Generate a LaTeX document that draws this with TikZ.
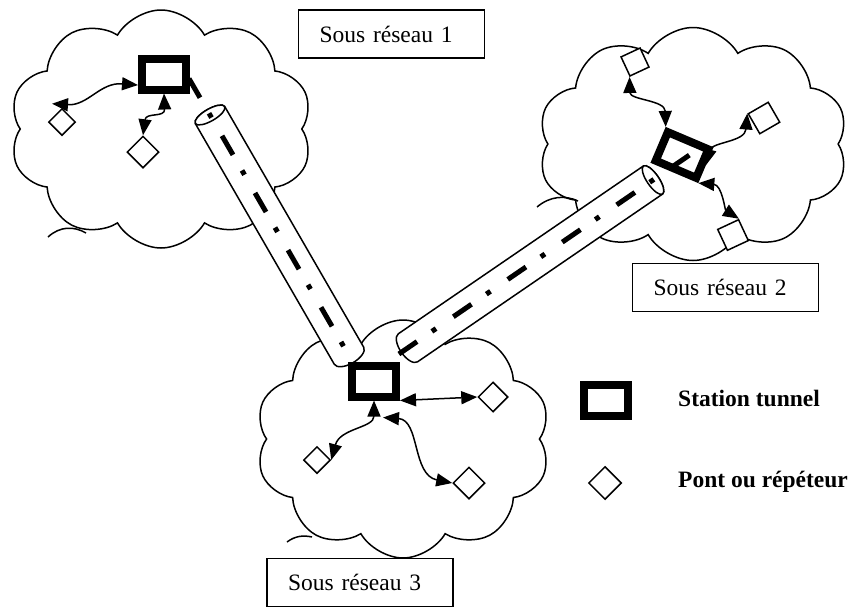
\documentclass[tikz,border=0pt]{standalone}
\usepackage{fontspec}
\setmainfont{Liberation Serif}
\usetikzlibrary{shapes.symbols,shapes.geometric,arrows.meta}
\begin{document}
\begin{tikzpicture}[x=1pt,y=-1pt]
\tikzstyle{every node}=[font=\fontsize{23.5}{28}\selectfont,inner sep=0pt]
\tikzstyle{nuage}=[cloud,draw,line width=1.5pt,cloud puffs=10,cloud puff arc=120]
\tikzstyle{station}=[rectangle,draw,line width=8pt,minimum width=44pt,minimum height=31pt]
\tikzstyle{pont}=[diamond,draw,line width=1.5pt,minimum size=30pt,fill=white]
\tikzstyle{carre}=[rectangle,draw,line width=1.5pt,minimum size=21pt,fill=white]
\tikzstyle{lien}=[{Triangle[length=16pt,width=13pt]}-{Triangle[length=16pt,width=13pt]},line width=1.5pt]
\tikzstyle{tube}=[draw,line width=1.5pt,fill=white]
\tikzstyle{axe}=[line width=5pt,dash pattern=on 22pt off 18pt on 5pt off 21pt]
\tikzstyle{etiquette}=[rectangle,draw,line width=1.5pt,fill=white,minimum width=186pt,minimum height=48pt,text width=144pt,inner xsep=21pt,align=left]
\useasboundingbox (0,0) rectangle (853,608);
% nuages
\node[nuage,minimum width=303pt,minimum height=238pt](n1) at (161,129) {};
\node[nuage,minimum width=310pt,minimum height=233pt](n2) at (693,144) {};
\node[nuage,minimum width=295pt,minimum height=238pt](n3) at (403,439) {};
\draw[line width=1.5pt] (48,237) .. controls (60,226) and (74,226) .. (86,233);
\draw[line width=1.5pt] (537,207) .. controls (550,196) and (565,195) .. (578,201);
\draw[line width=1.5pt] (287,542) .. controls (295,536) and (303,535) .. (312,537);
% tunnels
\begin{scope}[shift={(210,115)},rotate=-60]
\draw[tube] (0,-17) -- (278,-17) arc[start angle=-90,end angle=90,x radius=8,y radius=17] -- (0,17) arc[start angle=90,end angle=270,x radius=6,y radius=17] -- cycle;
\draw[tube] (0,0) ellipse[x radius=6,y radius=17];
\coordinate (t1a) at (-42,0);
\coordinate (t1b) at (278,0);
\end{scope}
\begin{scope}[shift={(653,180)},rotate=-145.6]
\draw[tube] (0,-17) -- (297,-17) arc[start angle=-90,end angle=90,x radius=8,y radius=17] -- (0,17) arc[start angle=90,end angle=270,x radius=6,y radius=17] -- cycle;
\draw[tube] (0,0) ellipse[x radius=6,y radius=17];
\coordinate (t2a) at (308,0);
\coordinate (t2b) at (-45,0);
\end{scope}
\draw[axe] (t1a) -- (t1b);
\draw[axe] (t2a) -- (t2b);
% stations
\node[station](s1) at (164,74) {};
\node[station,rotate=-23](s2) at (682,155) {};
\node[station](s3) at (374,381) {};
% ponts
\node[pont,minimum size=27pt](p1) at (62,122) {};
\node[pont,minimum size=32pt](p2) at (143,152) {};
\node[carre,rotate=25](p3) at (635,62) {};
\node[carre,rotate=30,minimum size=23pt](p4) at (764,118) {};
\node[carre,rotate=25,minimum size=23pt](p5) at (733,235) {};
\node[pont](p6) at (493,397) {};
\node[pont,minimum size=27pt](p7) at (317,460) {};
\node[pont,minimum size=32pt](p8) at (469,483) {};
% liens
\draw[lien] (s1.203) .. controls (100,82) and (88,106) .. ([shift={(-10,-4)}]p1.north);
\draw[lien] (s1.south) .. controls (165,118) and (146,112) .. (p2.north);
\draw[lien] (p3.south west) .. controls (630,100) and (665,100) .. (s2.north west);
\draw[lien] (s2.east) .. controls (712,142) and (745,142) .. (p4.north west);
\draw[lien] (s2.south east) .. controls (722,185) and (725,210) .. (p5.north east);
\draw[lien] (s3.south east) -- (p6.west);
\draw[lien] (s3.south) .. controls (374,428) and (340,428) .. (p7.east);
\draw[lien] ([shift={(9,17)}]s3.south) .. controls (420,420) and (412,475) .. (p8.west);
% etiquettes
\node[etiquette](e1) at (391.5,34) {Sous réseau 1};
\node[etiquette](e2) at (725.5,287.5) {Sous réseau 2};
\node[etiquette](e3) at (360,582.5) {Sous réseau 3};
% legende
\node[station](g1) at (606,400) {};
\node[anchor=base west,font=\fontsize{23.5}{28}\selectfont\bfseries](g1t) at (678,406) {Station tunnel};
\node[pont,minimum size=33pt](g2) at (605,483) {};
\node[anchor=base west,font=\fontsize{23.5}{28}\selectfont\bfseries](g2t) at (678,487) {Pont ou répéteur};
\end{tikzpicture}
\end{document}
